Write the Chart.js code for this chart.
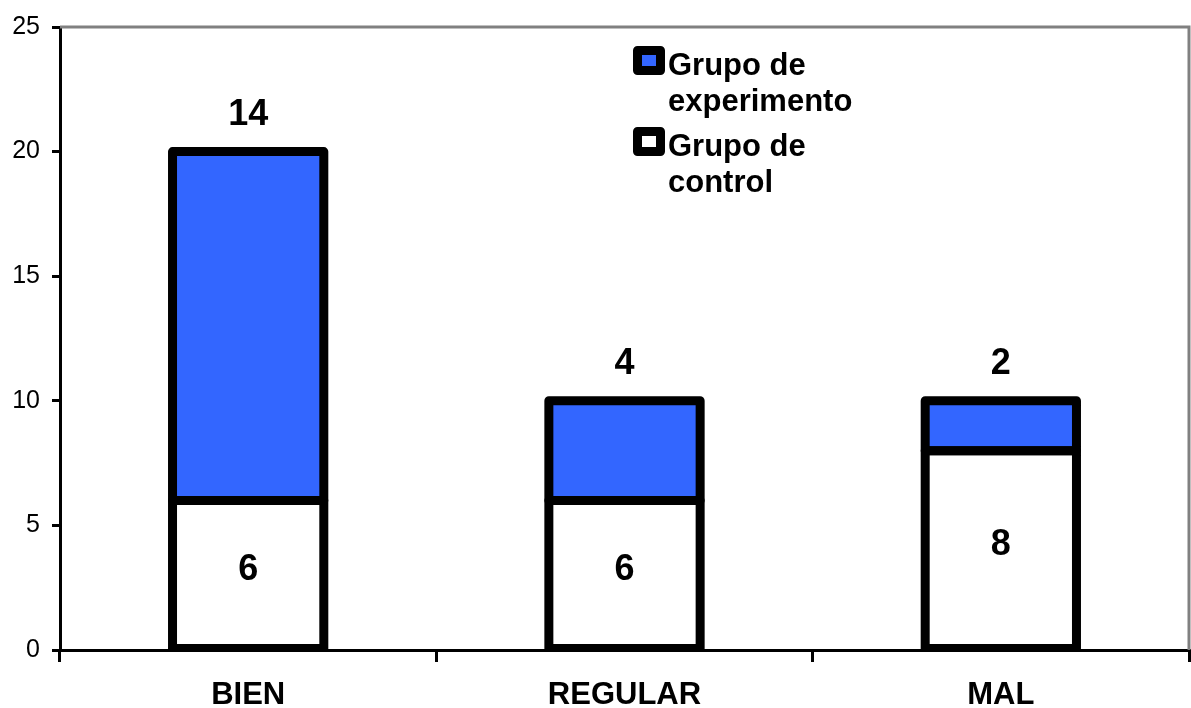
<!DOCTYPE html>
<html>
<head>
<meta charset="utf-8">
<script src="https://cdn.jsdelivr.net/npm/chart.js@4/dist/chart.umd.min.js"></script>
<style>
  body { margin: 0; background: #fff; }
</style>
</head>
<body>
<canvas id="chart" width="1191" height="708"></canvas>
<script>
const categories = ['BIEN', 'REGULAR', 'MAL']
const control = [6, 6, 8]
const experiment = [14, 4, 2]
const legendNames = [['Grupo de', 'experimento'], ['Grupo de', 'control']]
const Y_MIN = 0, Y_MAX = 25, Y_STEP = 5

const BLUE = '#3366ff'
const FONT = '"Liberation Sans", Arial, sans-serif'

// thick black outlines centred on the bar edges, plus value labels
const outlines = {
    id: 'outlines',
    afterDatasetsDraw: (chart) => {
        const ctx = chart.ctx
        const area = chart.chartArea
        ctx.save()
        ctx.beginPath()
        ctx.rect(area.left, area.top - 20, area.right - area.left, area.bottom - area.top + 20)
        ctx.clip()
        ctx.lineWidth = 9
        ctx.lineJoin = 'round'
        ctx.strokeStyle = '#000'
        chart.data.datasets.forEach((ds, di) => {
            chart.getDatasetMeta(di).data.forEach(bar => {
                ctx.strokeRect(bar.x - bar.width / 2, bar.y, bar.width, bar.base - bar.y)
            })
        })
        ctx.restore()

        ctx.save()
        ctx.fillStyle = '#000'
        ctx.font = 'bold 36px ' + FONT
        ctx.textAlign = 'center'
        ctx.textBaseline = 'middle'
        chart.getDatasetMeta(0).data.forEach((bar, i) => {
            ctx.fillText(control[i], bar.x, (bar.y + bar.base) / 2 - 4)
        })
        chart.getDatasetMeta(1).data.forEach((bar, i) => {
            ctx.fillText(experiment[i], bar.x, bar.y - 37)
        })
        ctx.restore()
    }
}

// grey frame on top and right of plot area
const frame = {
    id: 'frame',
    beforeDatasetsDraw: (chart) => {
        const ctx = chart.ctx
        const a = chart.chartArea
        ctx.save()
        ctx.strokeStyle = '#808080'
        ctx.lineWidth = 3
        ctx.beginPath()
        ctx.moveTo(a.left, a.top)
        ctx.lineTo(a.right, a.top)
        ctx.lineTo(a.right, a.bottom)
        ctx.stroke()
        ctx.restore()
    }
}

// legend with wrapped names
const legendBox = {
    id: 'legendBox',
    afterDraw: (chart) => {
        const ctx = chart.ctx
        const fills = [BLUE, '#fff']
        const boxTop = [50.5, 131.5]
        ctx.save()
        legendNames.forEach((lines, i) => {
            ctx.fillStyle = fills[i]
            ctx.fillRect(637.5, boxTop[i], 23, 20)
            ctx.lineWidth = 9
            ctx.lineJoin = 'round'
            ctx.strokeStyle = '#000'
            ctx.strokeRect(637.5, boxTop[i], 23, 20)
            ctx.fillStyle = '#000'
            ctx.font = 'bold 31px ' + FONT
            ctx.textAlign = 'left'
            ctx.textBaseline = 'alphabetic'
            lines.forEach((t, j) => {
                ctx.fillText(t, 668, boxTop[i] + 24 + j * 36)
            })
        })
        ctx.restore()
    }
}

new Chart(document.getElementById('chart'), {
    type: 'bar',
    data: {
        labels: categories,
        datasets: [{
            label: 'Grupo de control',
            data: control,
            backgroundColor: '#fff',
            borderWidth: 0,
            barPercentage: 0.402,
            categoryPercentage: 1,
        }, {
            label: 'Grupo de experimento',
            data: experiment,
            backgroundColor: BLUE,
            borderWidth: 0,
            barPercentage: 0.402,
            categoryPercentage: 1,
        }]
    },
    plugins: [frame, outlines, legendBox],
    options: {
        responsive: false,
        animation: false,
        devicePixelRatio: 1,
        layout: { padding: { top: 26, right: 2, left: 0, bottom: 0 } },
        plugins: {
            legend: { display: false },
            tooltip: { enabled: false },
        },
        scales: {
            x: {
                stacked: true,
                afterFit: (scale) => { scale.height = 58 },
                border: { color: '#000', width: 3 },
                grid: {
                    offset: true,
                    drawOnChartArea: false,
                    drawTicks: true,
                    tickLength: 12,
                    color: '#000',
                    lineWidth: 3,
                },
                ticks: {
                    color: '#000',
                    padding: 15,
                    font: { family: FONT, size: 31, weight: 'bold' },
                },
            },
            y: {
                stacked: true,
                min: Y_MIN,
                max: Y_MAX,
                afterFit: (scale) => { scale.width = 60 },
                border: { color: '#000', width: 3 },
                grid: {
                    drawOnChartArea: false,
                    drawTicks: true,
                    tickLength: 8,
                    color: '#000',
                    lineWidth: 3,
                },
                ticks: {
                    stepSize: Y_STEP,
                    color: '#000',
                    padding: 12,
                    font: { family: FONT, size: 25 },
                },
            },
        },
    },
})
</script>
</body>
</html>
